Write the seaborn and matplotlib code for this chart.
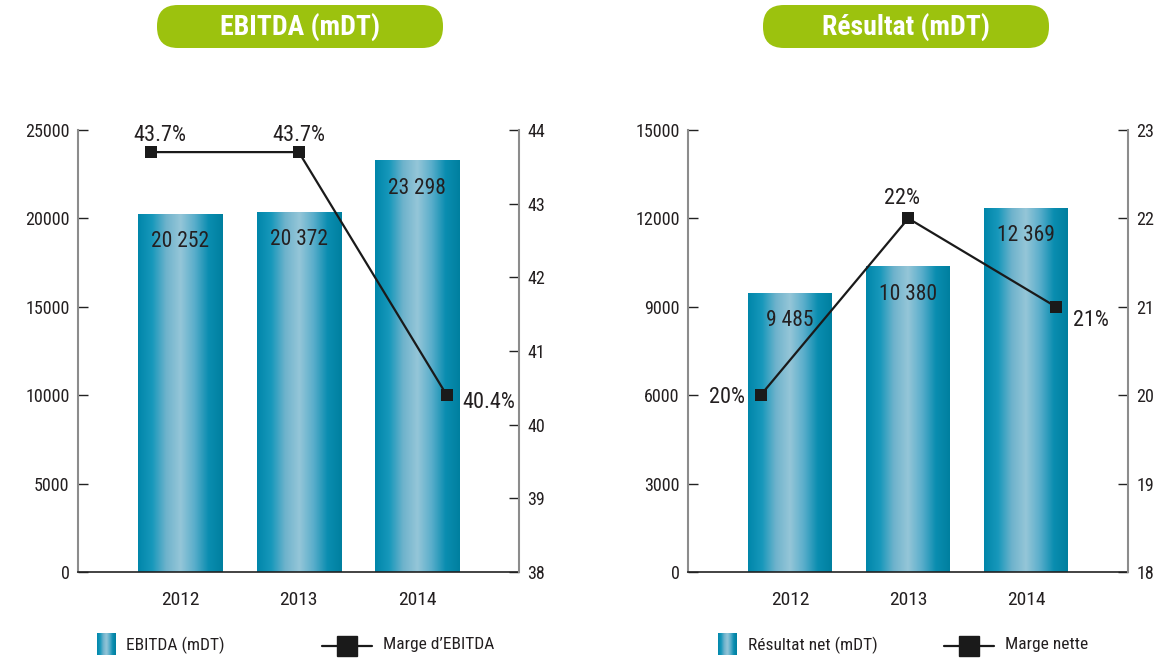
import numpy as np
import pandas as pd
import matplotlib
matplotlib.use("Agg")
import matplotlib.pyplot as plt
from matplotlib import font_manager
from matplotlib.patches import FancyBboxPatch
from matplotlib.lines import Line2D
from matplotlib.colors import LinearSegmentedColormap
import seaborn as sns

# ---------------- data ----------------
years = ["2012", "2013", "2014"]
ebitda = [20252, 20372, 23298]
ebitda_labels = ["20 252", "20 372", "23 298"]
marge_ebitda = [43.7, 43.7, 40.4]
marge_ebitda_labels = ["43.7%", "43.7%", "40.4%"]
resultat = [9485, 10380, 12369]
resultat_labels = ["9 485", "10 380", "12 369"]
marge_nette = [20, 22, 21]
marge_nette_labels = ["20%", "22%", "21%"]

left_ticks = [0, 5000, 10000, 15000, 20000, 25000]
left_ticks_r = [0, 3000, 6000, 9000, 12000, 15000]
right_ticks = [38, 39, 40, 41, 42, 43, 44]
right_ticks_r = [18, 19, 20, 21, 22, 23]

titles = ["EBITDA (mDT)", "Résultat (mDT)"]
legend_bar = ["EBITDA (mDT)", "Résultat net (mDT)"]
legend_line = ["Marge d\u2019EBITDA", "Marge nette"]

# ---------------- style ----------------
sns.set_theme(style="white")
names = {f.name for f in font_manager.fontManager.ttflist}
cond_names = [n for n in ["Roboto Condensed", "Liberation Sans Narrow", "Open Sans Condensed"] if n in names]
has_dv_cond = any(f.name == "DejaVu Sans" and "condensed" in str(f.stretch)
                  for f in font_manager.fontManager.ttflist)
if cond_names:
    plt.rcParams["font.family"] = [cond_names[0], "DejaVu Sans"]
    S = 1.0
elif has_dv_cond:
    plt.rcParams["font.family"] = ["DejaVu Sans"]
    plt.rcParams["font.stretch"] = "condensed"
    S = 0.85
else:
    plt.rcParams["font.family"] = ["Liberation Sans", "DejaVu Sans"]
    S = 0.82

TXT = "#231f20"
GREEN = "#9cc20e"
grad_cmap = LinearSegmentedColormap.from_list(
    "bar", ["#0086aa", "#1798bb", "#6fb3cc", "#95c6d8", "#5aaecb", "#0a8db0", "#007f9f"])

fig = plt.figure(figsize=(11.61, 6.61), dpi=100)

panels = [
    dict(x0=78, x1=519, bars=ebitda, blabels=ebitda_labels, line=marge_ebitda,
         llabels=marge_ebitda_labels, lt=left_ticks, rt=right_ticks,
         loffs=[(9, 17, "center", "center"), (0, 17, "center", "center"), (16, -7, "left", "center")],
         title=titles[0], box=(157, 443), leg=(97, 126, 322, 383),
         lb=legend_bar[0], ll=legend_line[0]),
    dict(x0=688, x1=1128, bars=resultat, blabels=resultat_labels, line=marge_nette,
         llabels=marge_nette_labels, lt=left_ticks_r, rt=right_ticks_r,
         loffs=[(-16, -2, "right", "center"), (-6, 20, "center", "center"), (17, -14, "left", "center")],
         title=titles[1], box=(763, 1049), leg=(718, 748, 944, 1005),
         lb=legend_bar[1], ll=legend_line[1]),
]

W, H = 1161, 661
gx = np.linspace(0, 1, 256)[None, :]

for p in panels:
    ax = fig.add_axes([p["x0"] / W, 1 - 572 / H, (p["x1"] - p["x0"]) / W, (572 - 130) / H])
    df = pd.DataFrame({"year": years, "val": p["bars"]})
    sns.barplot(data=df, x="year", y="val", ax=ax, color="#0088ab", width=0.71,
                errorbar=None, saturation=1)
    # gradient fill for bars
    for patch in ax.patches:
        bx, by = patch.get_x(), patch.get_y()
        bw, bh = patch.get_width(), patch.get_height()
        im = ax.imshow(gx, extent=[bx, bx + bw, by, by + bh], cmap=grad_cmap,
                       aspect="auto", zorder=2, interpolation="bicubic")
        im.set_clip_path(patch)
        patch.set_facecolor("none")
        patch.set_edgecolor("none")
    ax.set_ylim(0, p["lt"][-1])
    ax.set_xlim(-0.865, 2.86)
    for i, (v, lab) in enumerate(zip(p["bars"], p["blabels"])):
        ax.annotate(lab, (i, v), xytext=(0, -28), textcoords="offset pixels",
                    ha="center", va="center", fontsize=15.5 * S, color=TXT, zorder=5)
    ax.set_yticks(p["lt"])
    ax.set_yticklabels([str(t) for t in p["lt"]], fontsize=13 * S, color=TXT)
    ax.set_xticks(range(len(years)))
    ax.set_xticklabels(years, fontsize=14 * S, color=TXT)
    ax.set_xlabel("")
    ax.set_ylabel("")
    ax.tick_params(axis="y", direction="in", length=7, width=1, color="#222222", pad=6, left=True)
    ax.tick_params(axis="x", length=0, pad=14)
    for s in ["top", "right"]:
        ax.spines[s].set_visible(False)
    ax.spines["left"].set_color("#8c8c8c")
    ax.spines["left"].set_linewidth(1.5)
    ax.spines["bottom"].set_color("#222222")
    ax.spines["bottom"].set_linewidth(1.2)

    ax2 = ax.twinx()
    ax2.set_ylim(p["rt"][0], p["rt"][-1])
    idx = np.arange(len(years))
    xline = idx + (idx - 1) * 0.25
    sns.lineplot(x=xline, y=p["line"], ax=ax2, color="#1a1a1a", linewidth=1.6,
                 marker="s", markersize=9, markeredgewidth=0, sort=False, zorder=6)
    ax2.set_xlim(-0.865, 2.86)
    ax2.set_ylim(p["rt"][0], p["rt"][-1])
    ax2.set_yticks(p["rt"])
    ax2.set_yticklabels([str(t) for t in p["rt"]], fontsize=13 * S, color=TXT)
    ax2.tick_params(axis="y", direction="in", length=7, width=1, color="#222222", pad=6, right=True)
    for s in ["top", "left", "bottom"]:
        ax2.spines[s].set_visible(False)
    ax2.spines["right"].set_color("#8c8c8c")
    ax2.spines["right"].set_linewidth(1.5)
    for xv, yv, lab, (dx, dy, ha, va) in zip(xline, p["line"], p["llabels"], p["loffs"]):
        ax2.annotate(lab, (xv, yv), xytext=(dx, dy), textcoords="offset pixels",
                     ha=ha, va=va, fontsize=16 * S, color=TXT, zorder=7)

    # title box
    bx0, bx1 = p["box"]
    fig.patches.append(FancyBboxPatch((bx0 / W, 1 - 48 / H), (bx1 - bx0) / W, 43 / H,
                                      boxstyle="round,pad=0,rounding_size=0.018",
                                      transform=fig.transFigure, facecolor=GREEN,
                                      edgecolor="none", mutation_aspect=W / H))
    fig.text((bx0 + bx1) / 2 / W, 1 - 27 / H, p["title"], ha="center", va="center",
             fontsize=20 * S, fontweight="bold", color="white")

    # legend
    sx, tx, lx, t2x = p["leg"]
    lax = fig.add_axes([sx / W, 1 - 655 / H, 19 / W, 22 / H])
    lax.imshow(gx, cmap=grad_cmap, aspect="auto", interpolation="bicubic")
    lax.set_axis_off()
    fig.text(tx / W, 1 - 645 / H, p["lb"], ha="left", va="center", fontsize=12.5 * S, color=TXT)
    fig.add_artist(Line2D([lx / W, (lx + 50) / W], [1 - 646 / H] * 2, transform=fig.transFigure,
                          color="#1a1a1a", linewidth=1.6))
    fig.add_artist(Line2D([(lx + 25) / W], [1 - 646 / H], transform=fig.transFigure,
                          marker="s", markersize=14, color="#1a1a1a", linewidth=0))
    fig.text(t2x / W, 1 - 645 / H, p["ll"], ha="left", va="center", fontsize=12.5 * S, color=TXT)

fig.savefig("out.png", dpi=100, facecolor="white")
